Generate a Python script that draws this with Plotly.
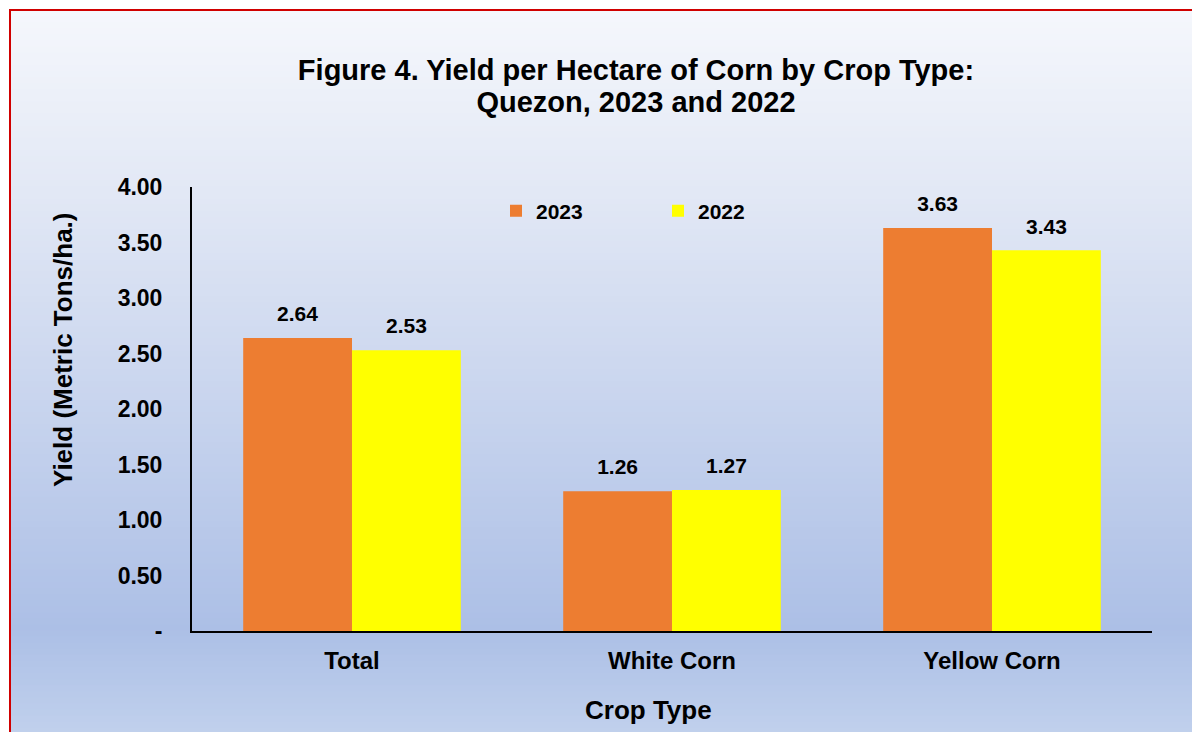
import plotly.graph_objects as go

categories = ["Total", "White Corn", "Yellow Corn"]
yield_2023 = [2.64, 1.26, 3.63]
yield_2022 = [2.53, 1.27, 3.43]
tick_vals = [0, 0.5, 1.0, 1.5, 2.0, 2.5, 3.0, 3.5, 4.0]
tick_text = ["-", "0.50", "1.00", "1.50", "2.00", "2.50", "3.00", "3.50", "4.00"]

OFF = 8  # page body margin
W, H = 1200 - OFF, 732 - OFF
L, R, T, B = 192 - OFF, 1152 - OFF, 187 - OFF, 631 - OFF
FONT = "Arial, Liberation Sans, sans-serif"

def px_x(px):  # reference pixel -> paper
    return (px - OFF - L) / (R - L)

def px_y(py):
    return (B - (py - OFF)) / (B - T)

def lerp(c1, c2, t):
    return tuple(round(a + (b - a) * t) for a, b in zip(c1, c2))

stops = [(0.0, (245, 247, 252)), (0.25, (226, 232, 245)), (0.85, (172, 191, 230)), (1.0, (194, 210, 237))]

def grad(t):
    for (t0, c0), (t1, c1) in zip(stops[:-1], stops[1:]):
        if t <= t1:
            return lerp(c0, c1, (t - t0) / (t1 - t0))
    return stops[-1][1]

shapes = []
top_px, bot_px = 10, 740
n = 120
for i in range(n):
    y0 = top_px + (bot_px - top_px) * i / n
    y1 = top_px + (bot_px - top_px) * (i + 1) / n + 1
    c = grad((i + 0.5) / n)
    shapes.append(dict(type="rect", xref="paper", yref="paper", layer="below",
                       x0=px_x(10), x1=px_x(1210), y0=px_y(y1), y1=px_y(y0),
                       fillcolor="rgb(%d,%d,%d)" % c, line=dict(width=0)))
shapes.append(dict(type="rect", xref="paper", yref="paper", layer="below",
                   x0=px_x(10), x1=px_x(1215), y0=px_y(745), y1=px_y(10),
                   fillcolor="rgba(0,0,0,0)", line=dict(color="#d00000", width=2)))

label_tpl = "<span style='font-size:21px'><b>%{y:.2f}</b></span><br>&nbsp;"

fig = go.Figure()
fig.add_trace(go.Bar(name="<b>2023</b>", x=categories, y=yield_2023, marker_color="#ed7d31",
                     marker_line_width=0,
                     texttemplate=label_tpl, textposition="outside",
                     textfont=dict(family=FONT, size=9, color="black"), cliponaxis=False))
fig.add_trace(go.Bar(name="<b>2022</b>", x=categories, y=yield_2022, marker_color="#ffff00",
                     marker_line_width=0,
                     texttemplate=label_tpl, textposition="outside",
                     textfont=dict(family=FONT, size=9, color="black"), cliponaxis=False))

annotations = [
    dict(text="<b>Crop Type</b>", xref="paper", yref="paper", x=px_x(648), y=px_y(710),
         xanchor="center", yanchor="middle", showarrow=False,
         font=dict(family=FONT, size=26, color="black")),
    dict(text="<b>Yield (Metric Tons/ha.)</b>", xref="paper", yref="paper", x=px_x(63), y=px_y(350),
         xanchor="center", yanchor="middle", showarrow=False, textangle=-90,
         font=dict(family=FONT, size=26, color="black")),
]

title_txt = ("<span style='font-size:29px'><b>Figure 4. Yield per Hectare of Corn by Crop Type:</b></span><br>"
             "<span style='font-size:29px'><b>Quezon, 2023 and 2022</b></span>")

fig.update_layout(
    width=W, height=H,
    margin=dict(l=L, r=W - R, t=T, b=H - B, pad=0),
    paper_bgcolor="white", plot_bgcolor="rgba(0,0,0,0)",
    barmode="group", bargap=0.32, bargroupgap=0,
    font=dict(family=FONT, size=20, color="black"),
    title=dict(text=title_txt,
               x=(636 - OFF) / W, xanchor="center", y=1 - (80 - OFF) / H, yanchor="middle",
               font=dict(family=FONT, size=24.5, color="black")),
    legend=dict(orientation="h", x=px_x(496), xanchor="left", y=px_y(211), yanchor="middle",
                bgcolor="rgba(0,0,0,0)", entrywidth=117, entrywidthmode="pixels",
                font=dict(family=FONT, size=21, color="black"), traceorder="normal"),
    shapes=shapes,
    annotations=annotations,
    showlegend=True,
)
fig.update_xaxes(showline=True, linecolor="black", linewidth=2, ticks="", showgrid=False,
                 ticklabelstandoff=7,
                 tickfont=dict(family=FONT, size=24, color="black", weight="bold"))
fig.update_yaxes(range=[0, 4], tickvals=tick_vals, ticktext=tick_text, showline=True,
                 linecolor="black", linewidth=2, ticks="", showgrid=False, zeroline=False,
                 ticklabelstandoff=23,
                 tickfont=dict(family=FONT, size=23, color="black", weight="bold"))

fig.write_html("out.html")
